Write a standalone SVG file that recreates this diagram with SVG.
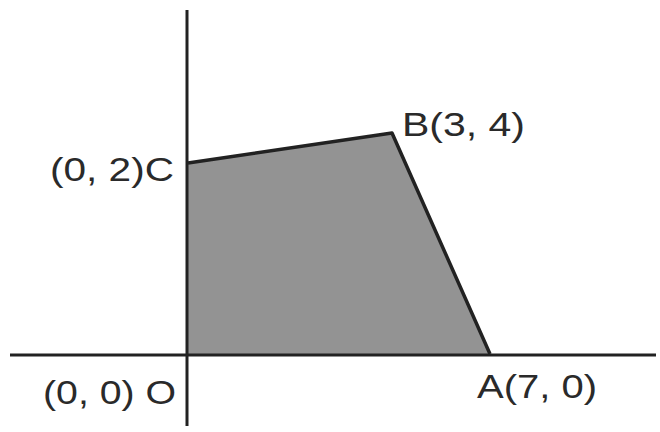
<svg xmlns="http://www.w3.org/2000/svg" width="660" height="432" viewBox="0 0 660 432">
<style>
.lbl{font-family:"Liberation Sans",Arial,sans-serif;font-size:33px;fill:#2a2a2a;}
.axis{stroke:#222;stroke-width:3;fill:none;}
.edge{stroke:#222;stroke-width:3.5;fill:none;stroke-linejoin:round;}
</style>
<rect width="660" height="432" fill="#fff"/>
<g id="region">
<polygon points="188,163 392,133 490,354 188,354" fill="#939393"/>
</g>
<g id="axes">
<line class="axis" x1="10" y1="355" x2="656" y2="355" stroke="#444"/>
<line class="axis" x1="187" y1="10" x2="187" y2="426"/>
</g>
<g id="edges">
<polyline class="edge" points="188,163 392,133 490,354"/>
</g>
<g id="labels">
<text class="lbl" x="50" y="181" textLength="124" lengthAdjust="spacingAndGlyphs">(0, 2)C</text>
<text class="lbl" x="43" y="404" textLength="133" lengthAdjust="spacingAndGlyphs">(0, 0) O</text>
<text class="lbl" x="402" y="136" textLength="123" lengthAdjust="spacingAndGlyphs">B(3, 4)</text>
<text class="lbl" x="477" y="398" textLength="120" lengthAdjust="spacingAndGlyphs">A(7, 0)</text>
</g>
</svg>
